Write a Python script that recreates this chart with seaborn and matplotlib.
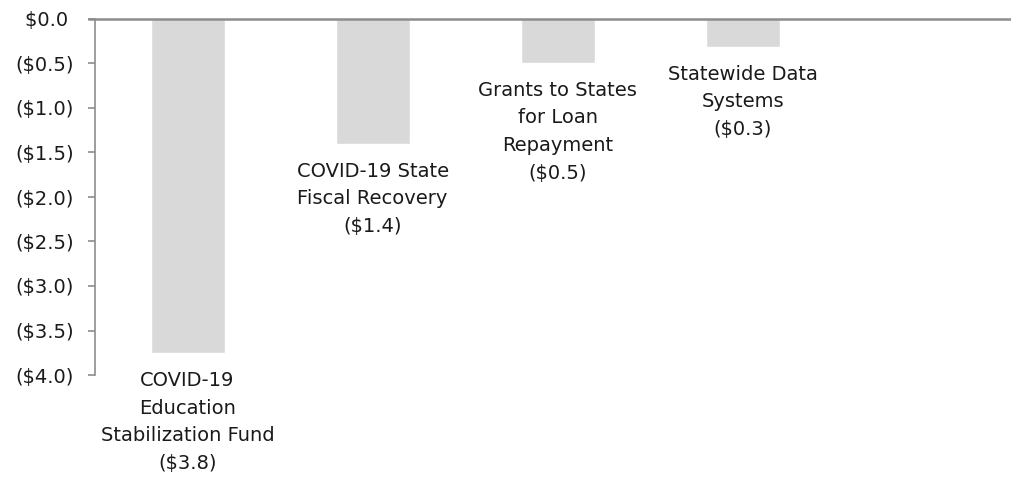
import numpy as np
import pandas as pd
import seaborn as sns
from matplotlib import pyplot as plt

# data ($ billions, cuts shown as negatives)
programs = ["COVID-19\nEducation\nStabilization Fund",
            "COVID-19 State\nFiscal Recovery",
            "Grants to States\nfor Loan\nRepayment",
            "Statewide Data\nSystems"]
change = [-3.75, -1.40, -0.49, -0.31]
value_labels = ["($3.8)", "($1.4)", "($0.5)", "($0.3)"]
yticks = [0.0, -0.5, -1.0, -1.5, -2.0, -2.5, -3.0, -3.5, -4.0]
ytick_labels = ["$0.0 ", "($0.5)", "($1.0)", "($1.5)", "($2.0)",
                "($2.5)", "($3.0)", "($3.5)", "($4.0)"]

sns.set_style("white")
plt.rcParams['font.family'] = ['DejaVu Sans']

df = pd.DataFrame({"program": programs, "change": change})

fig = plt.figure(figsize=(10.11, 4.79), dpi=100)
ax = fig.add_axes([95 / 1011, 1 - 375 / 479, 1 - 95 / 1011, 356 / 479])

sns.barplot(data=df, x="program", y="change", color="#d9d9d9",
            width=0.4, saturation=1, ax=ax)

ax.set_ylim(-4.0, 0.0)
ax.set_xlim(-0.5, 4.45)
ax.set_yticks(yticks)
ax.set_yticklabels(ytick_labels, fontsize=14, color="#1a1a1a")
ax.set_xticks([])
ax.set_xlabel("")
ax.set_ylabel("")

for side in ["right", "bottom"]:
    ax.spines[side].set_visible(False)
ax.spines["left"].set_color("#8c8c8c")
ax.spines["left"].set_linewidth(1.2)
ax.spines["top"].set_color("#8c8c8c")
ax.spines["top"].set_linewidth(1.8)
ax.spines["top"].set_bounds(-0.53, 4.45)
ax.tick_params(axis="y", length=5, width=1.2, color="#8c8c8c", pad=10, left=True)

# category labels hang below each bar
for i, (name, lab) in enumerate(zip(programs, value_labels)):
    ax.annotate(name + "\n" + lab, xy=(i, change[i]), xytext=(0, -13),
                textcoords="offset points", ha="center", va="top",
                fontsize=14, color="#1a1a1a", linespacing=1.58)

fig.savefig("out.png", dpi=100)
